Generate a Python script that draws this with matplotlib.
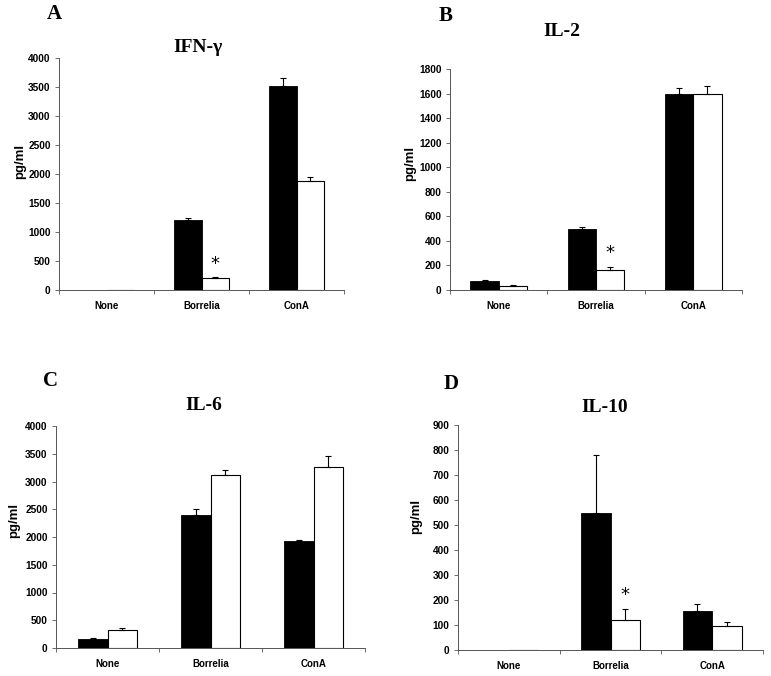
import numpy as np
import matplotlib
matplotlib.use("Agg")
import matplotlib.pyplot as plt

categories = ["None", "Borrelia", "ConA"]

# panel A: IFN-gamma
ifn_black = [0, 1200, 3510]
ifn_black_err = [0, 50, 140]
ifn_white = [0, 210, 1880]
ifn_white_err = [0, 20, 70]

# panel B: IL-2
il2_black = [70, 500, 1595]
il2_black_err = [8, 15, 50]
il2_white = [30, 160, 1600]
il2_white_err = [10, 25, 60]

# panel C: IL-6
il6_black = [170, 2390, 1920]
il6_black_err = [10, 120, 20]
il6_white = [320, 3120, 3260]
il6_white_err = [40, 80, 200]

# panel D: IL-10
il10_black = [0, 550, 155]
il10_black_err = [0, 230, 28]
il10_white = [0, 120, 95]
il10_white_err = [0, 45, 18]

W, H = 771, 676
fig = plt.figure(figsize=(W / 100, H / 100), dpi=100)
sans = "Liberation Sans"


def px_axes(x0, x1, ytop, ybot):
    return fig.add_axes([x0 / W, 1 - ybot / H, (x1 - x0) / W, (ybot - ytop) / H])


def bars_with_err(ax, xpos, vals, errs, face, lw):
    ax.bar(xpos, vals, 0.29, color=face, edgecolor="black", linewidth=lw)
    # only draw error bars where there is something measured
    keep = [i for i, v in enumerate(vals) if v > 0]
    ax.errorbar(xpos[keep], np.array(vals)[keep],
                yerr=[np.zeros(len(keep)), np.array(errs)[keep]],
                fmt="none", ecolor="black", elinewidth=0.8, capsize=2, capthick=0.8)


def draw_panel(ax, black, black_err, white, white_err, ymax, step, star_y):
    x = np.arange(len(categories))
    bw = 0.29
    bars_with_err(ax, x - bw / 2, black, black_err, "black", 0.6)
    bars_with_err(ax, x + bw / 2, white, white_err, "white", 0.8)
    ax.set_xlim(-0.5, 2.5)
    ax.set_ylim(0, ymax)
    ticks = np.arange(0, ymax + 1, step)
    ax.set_yticks(ticks)
    ax.set_yticklabels([str(int(v)) for v in ticks],
                       fontsize=7.3, fontweight="bold", family=sans)
    ax.set_xticks([-0.5, 0.5, 1.5, 2.5])
    ax.set_xticklabels([])
    ax.set_xticks(x, minor=True)
    ax.set_xticklabels(categories, minor=True, fontsize=7, fontweight="bold", family=sans)
    ax.tick_params(axis="x", which="minor", length=0, pad=8)
    ax.tick_params(axis="x", which="major", length=3, width=0.6, color="#555555")
    ax.tick_params(axis="y", length=3, width=0.6, color="#555555", pad=3)
    for s in ["top", "right"]:
        ax.spines[s].set_visible(False)
    for s in ["left", "bottom"]:
        ax.spines[s].set_color("#555555")
        ax.spines[s].set_linewidth(0.7)
    if star_y is not None:
        ax.text(1 + bw / 2, star_y, "*", ha="center", va="center", fontsize=13,
                family="DejaVu Sans")


axA = px_axes(59, 344, 58, 290)
draw_panel(axA, ifn_black, ifn_black_err, ifn_white, ifn_white_err, 4000, 500, 440)
axB = px_axes(450, 742, 69, 290)
draw_panel(axB, il2_black, il2_black_err, il2_white, il2_white_err, 1800, 200, 300)
axC = px_axes(56, 365, 426, 648)
draw_panel(axC, il6_black, il6_black_err, il6_white, il6_white_err, 4000, 500, None)
axD = px_axes(458, 763, 425, 650)
draw_panel(axD, il10_black, il10_black_err, il10_white, il10_white_err, 900, 100, 220)

# y-axis labels
for x, y in [(20, 161), (410, 163), (14, 520), (416, 516)]:
    fig.text(x / W, 1 - y / H, "pg/ml", rotation=90, ha="center", va="center",
             fontsize=9.5, fontweight="bold", family=sans)

serif = "Liberation Serif"
titles = [("IFN-γ", 198, 47), ("IL-2", 562, 32), ("IL-6", 204, 405), ("IL-10", 605, 407)]
for t, x, y in titles:
    fig.text(x / W, 1 - y / H, t, ha="center", va="center", fontsize=14,
             fontweight="bold", family=serif)

letters = [("A", 54, 14), ("B", 446, 16), ("C", 51, 381), ("D", 451, 384)]
for t, x, y in letters:
    fig.text(x / W, 1 - y / H, t, ha="center", va="center", fontsize=15,
             fontweight="bold", family=serif)

fig.savefig("out.png", dpi=100)
